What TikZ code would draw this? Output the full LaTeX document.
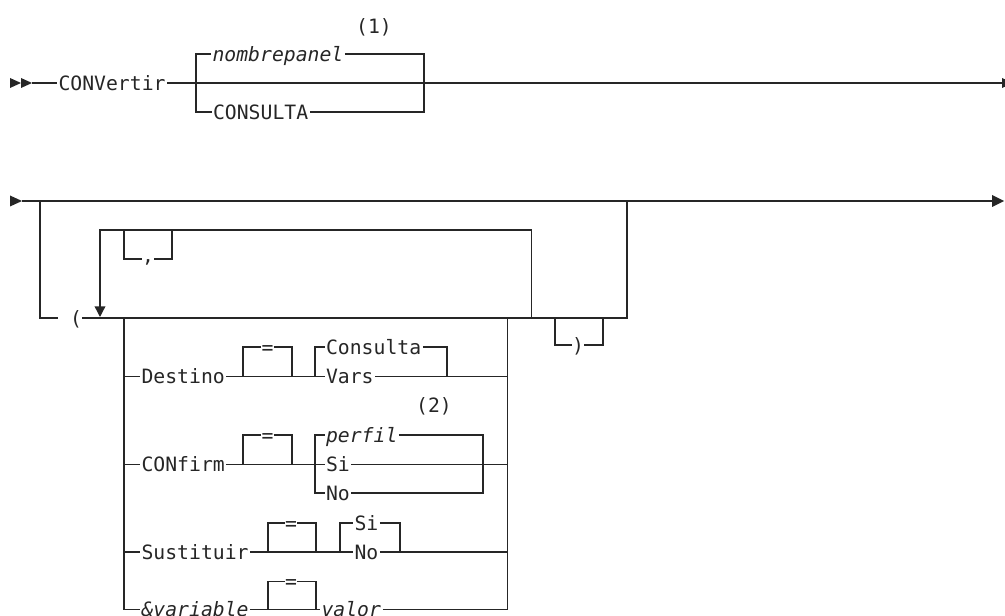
\documentclass[tikz,border=0pt]{standalone}
\usepackage{fontspec}
\setmonofont{DejaVu Sans Mono}
\usetikzlibrary{arrows.meta}
\colorlet{railink}{black!85}
\tikzset{
  rail/.style={draw=railink, line width=1.05pt},
  rail word/.style={
    anchor=west, inner xsep=1pt, inner ysep=0pt,
    text height=10.6pt, text depth=0pt, text=railink,
    font=\fontsize{14.8pt}{16pt}\selectfont\ttfamily
  },
  rail var/.style={rail word, font=\fontsize{14.8pt}{16pt}\selectfont\ttfamily\itshape},
  rail mark/.style={rail word, anchor=center, inner xsep=0pt},
  rail tip/.style={fill=railink}
}

\begin{document}
\begin{tikzpicture}[x=0.75pt, y=-0.75pt]
  \useasboundingbox (0,0) rectangle (1005,616);

  % first line: CONVertir
  \coordinate (start1) at (32,83);
  \coordinate (end1) at (1002,83);
  \fill[rail tip] (10,78) -- (21,83) -- (10,88) -- cycle;
  \fill[rail tip] (21,78) -- (start1) -- (21,88) -- cycle;
  \fill[rail tip] (end1) ++(0,-5) -- ++(11,5) -- ++(-11,5) -- cycle;
  \node[rail word] (convertir) at (57,83) {CONVertir};
  \draw[rail] (start1) -- (convertir.west);
  \draw[rail] (convertir.east) -- (end1);
  \node[rail var] (nombrepanel) at (211,54) {nombrepanel};
  \node[rail word] (consulta1) at (211.5,112) {CONSULTA};
  \node[rail mark] (note1) at (374,26) {(1)};
  \coordinate (split1) at (196,83);
  \coordinate (join1) at (424,83);
  \draw[rail] (nombrepanel.west) -| (split1) |- (consulta1.west);
  \draw[rail] (nombrepanel.east) -| (join1) |- (consulta1.east);

  % second line: options in brackets
  \coordinate (start2) at (22,201);
  \coordinate (end2) at (992,201);
  \fill[rail tip] (10,195.5) -- (start2) -- (10,206.5) -- cycle;
  \fill[rail tip] (end2) ++(0,-6) -- ++(12,6) -- ++(-12,6) -- cycle;
  \draw[rail] (start2) -- (end2);
  \coordinate (skip2a) at (40,201);
  \coordinate (skip2b) at (627,201);
  \coordinate (open) at (58,318);
  \node[rail mark] (lparen) at (76,318) {(};
  \draw[rail] (skip2a) |- (open);
  \draw[rail] (lparen.east) -| (skip2b);

  % repeat loop with comma
  \coordinate (loopR) at (531.5,318);
  \coordinate (loopTop) at (100,230);
  \coordinate (loopL) at (100,317);
  \draw[rail, -{Triangle[length=8pt, width=8pt]}] (loopR) |- (loopTop) -- (loopL);
  \coordinate (commaA) at (124,230);
  \coordinate (commaB) at (172,230);
  \node[rail mark, text height=6pt] (comma) at (148,259) {,};
  \draw[rail] (commaA) |- (comma.west);
  \draw[rail] (comma.east) -| (commaB);

  % closing parenthesis
  \coordinate (closeA) at (555,318);
  \coordinate (closeB) at (603,318);
  \node[rail mark] (rparen) at (578,345) {)};
  \draw[rail] (closeA) |- (rparen.west);
  \draw[rail] (rparen.east) -| (closeB);

  % option group
  \coordinate (groupL) at (124,318);
  \coordinate (groupR) at (507.5,318);

  % Destino
  \node[rail word] (destino) at (140,376.5) {Destino};
  \node[rail mark] (eq1) at (267.5,347) {=};
  \node[rail word] (consulta2) at (324.5,347) {Consulta};
  \node[rail word] (vars) at (324.5,376.5) {Vars};
  \coordinate (eq1a) at (243,376.5);
  \coordinate (eq1b) at (292,376.5);
  \coordinate (dest1) at (315,376.5);
  \coordinate (dest2) at (447,376.5);
  \draw[rail] (groupL) |- (destino.west);
  \draw[rail] (destino.east) -- (vars.west);
  \draw[rail] (vars.east) -| (groupR);
  \draw[rail] (eq1a) |- (eq1.west);
  \draw[rail] (eq1.east) -| (eq1b);
  \draw[rail] (dest1) |- (consulta2.west);
  \draw[rail] (consulta2.east) -| (dest2);

  % CONfirm
  \node[rail word] (confirm) at (140,464.5) {CONfirm};
  \node[rail mark] (eq2) at (267.5,435) {=};
  \node[rail var] (perfil) at (324.5,435) {perfil};
  \node[rail word] (si1) at (324.5,464.5) {Si};
  \node[rail word] (no1) at (324.5,493) {No};
  \node[rail mark] (note2) at (434,405) {(2)};
  \coordinate (eq2a) at (243,464.5);
  \coordinate (eq2b) at (292,464.5);
  \coordinate (conf1) at (315,464.5);
  \coordinate (conf2) at (483,464.5);
  \draw[rail] (groupL) |- (confirm.west);
  \draw[rail] (confirm.east) -- (si1.west);
  \draw[rail] (si1.east) -| (groupR);
  \draw[rail] (eq2a) |- (eq2.west);
  \draw[rail] (eq2.east) -| (eq2b);
  \draw[rail] (perfil.west) -| (conf1) |- (no1.west);
  \draw[rail] (perfil.east) -| (conf2) |- (no1.east);

  % Sustituir
  \node[rail word] (sustituir) at (140,552) {Sustituir};
  \node[rail mark] (eq3) at (291,523) {=};
  \node[rail word] (si2) at (353,523) {Si};
  \node[rail word] (no2) at (353,552) {No};
  \coordinate (eq3a) at (268,552);
  \coordinate (eq3b) at (316,552);
  \coordinate (sust1) at (340,552);
  \coordinate (sust2) at (400,552);
  \draw[rail] (groupL) |- (sustituir.west);
  \draw[rail] (sustituir.east) -- (no2.west);
  \draw[rail] (no2.east) -| (groupR);
  \draw[rail] (eq3a) |- (eq3.west);
  \draw[rail] (eq3.east) -| (eq3b);
  \draw[rail] (sust1) |- (si2.west);
  \draw[rail] (si2.east) -| (sust2);

  % &variable
  \node[rail var] (variable) at (140,609.5) {\&variable};
  \node[rail mark] (eq4) at (291,581.5) {=};
  \node[rail var] (valor) at (320,609.5) {valor};
  \coordinate (eq4a) at (268,609.5);
  \coordinate (eq4b) at (316,609.5);
  \draw[rail] (groupL) |- (variable.west);
  \draw[rail] (variable.east) -- (valor.west);
  \draw[rail] (valor.east) -| (groupR);
  \draw[rail] (eq4a) |- (eq4.west);
  \draw[rail] (eq4.east) -| (eq4b);
\end{tikzpicture}
\end{document}
